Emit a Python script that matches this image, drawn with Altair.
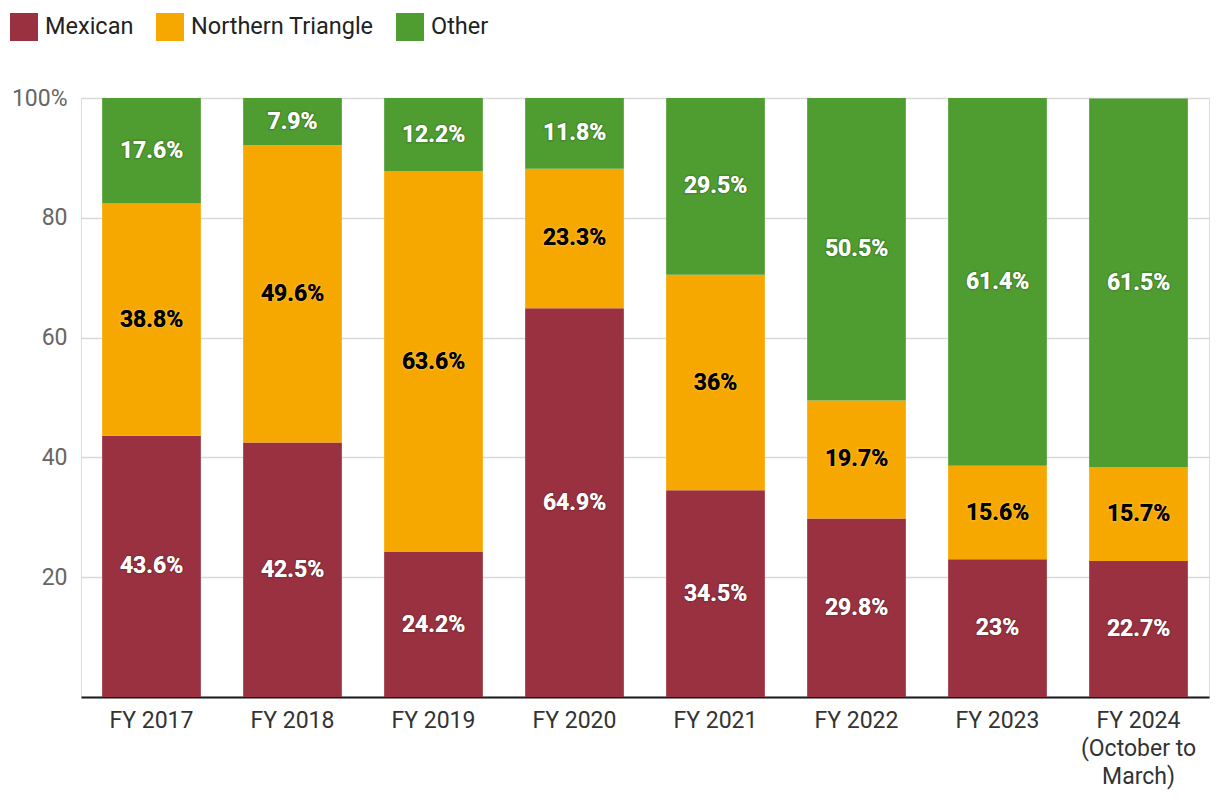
import altair as alt
import pandas as pd

years = ["FY 2017", "FY 2018", "FY 2019", "FY 2020", "FY 2021", "FY 2022", "FY 2023",
         "FY 2024|(October to|March)"]
mexican = [43.6, 42.5, 24.2, 64.9, 34.5, 29.8, 23.0, 22.7]
northern = [38.8, 49.6, 63.6, 23.3, 36.0, 19.7, 15.6, 15.7]
other = [17.6, 7.9, 12.2, 11.8, 29.5, 50.5, 61.4, 61.5]
groups = ["Mexican", "Northern Triangle", "Other"]
colors = ["#9a3140", "#f6a800", "#4f9d31"]

rows = []
for i, y in enumerate(years):
    for g, vals, o in zip(groups, [mexican, northern, other], [0, 1, 2]):
        rows.append({"year": y, "group": g, "value": vals[i], "order": o})
df = pd.DataFrame(rows)

FONT = "Roboto"
FS = 23

base = alt.Chart(df).transform_stack(
    stack="value", groupby=["year"], as_=["y0", "y1"], sort=[alt.SortField("order")]
).transform_calculate(
    mid="(datum.y0 + datum.y1) / 2",
    lbl="format(datum.value, '.1~f') + '%'",
)

x = alt.X("year:N", sort=years, title=None,
          scale=alt.Scale(paddingInner=0.3, paddingOuter=0.15),
          axis=alt.Axis(labelAngle=0, labelFontSize=FS, labelColor="#333333", labelFont=FONT,
                        labelExpr="split(datum.label, '|')", labelPadding=12,
                        domain=True, domainColor="#1a1a1a", domainWidth=2, ticks=False,
                        labelLineHeight=28))

bars = base.mark_bar().encode(
    x=x,
    y=alt.Y("y0:Q", scale=alt.Scale(domain=[0, 100]), title=None,
            axis=alt.Axis(values=[0, 20, 40, 60, 80, 100], labelFontSize=FS, labelColor="#666666",
                          labelFont=FONT, labelPadding=14, ticks=False, domain=False,
                          gridColor="#d9d9d9", gridWidth=1.3,
                          labelExpr="datum.value == 100 ? '100%' : datum.value == 0 ? '' : datum.label")),
    y2="y1:Q",
    color=alt.Color("group:N", sort=groups,
                    scale=alt.Scale(domain=groups, range=colors),
                    legend=alt.Legend(title=None, orient="none", legendX=-71, legendY=-85,
                                      direction="horizontal", symbolType="square", symbolSize=784,
                                      symbolStrokeWidth=0, symbolOpacity=1, labelLimit=0,
                                      labelFontSize=23.5, labelFont=FONT, labelColor="#222222",
                                      columnPadding=22, labelOffset=7)),
    order=alt.Order("order:Q"),
)

halo = base.mark_text(font=FONT, fontSize=FS, fontWeight="bold",
                      strokeWidth=3, strokeOpacity=0.18).encode(
    x=alt.X("year:N", sort=years),
    y=alt.Y("mid:Q"),
    text="lbl:N",
    color=alt.condition("datum.group == 'Northern Triangle'", alt.value("#000000"), alt.value("#ffffff")),
    stroke=alt.condition("datum.group == 'Northern Triangle'", alt.value("#ffe9a0"), alt.value("#222222")),
)

labels = base.mark_text(font=FONT, fontSize=FS, fontWeight="bold").encode(
    x=alt.X("year:N", sort=years),
    y=alt.Y("mid:Q"),
    text="lbl:N",
    color=alt.condition("datum.group == 'Northern Triangle'", alt.value("#000000"), alt.value("#ffffff")),
)

chart = alt.layer(bars, halo, labels).properties(
    width=1128, height=599,
    autosize=alt.AutoSizeParams(type="none"),
    padding={"left": 81, "top": 98, "right": 11, "bottom": 113},
).configure_view(stroke=None).configure(background="#ffffff")

chart.save("out.html", embed_options={"renderer": "svg", "actions": False})
